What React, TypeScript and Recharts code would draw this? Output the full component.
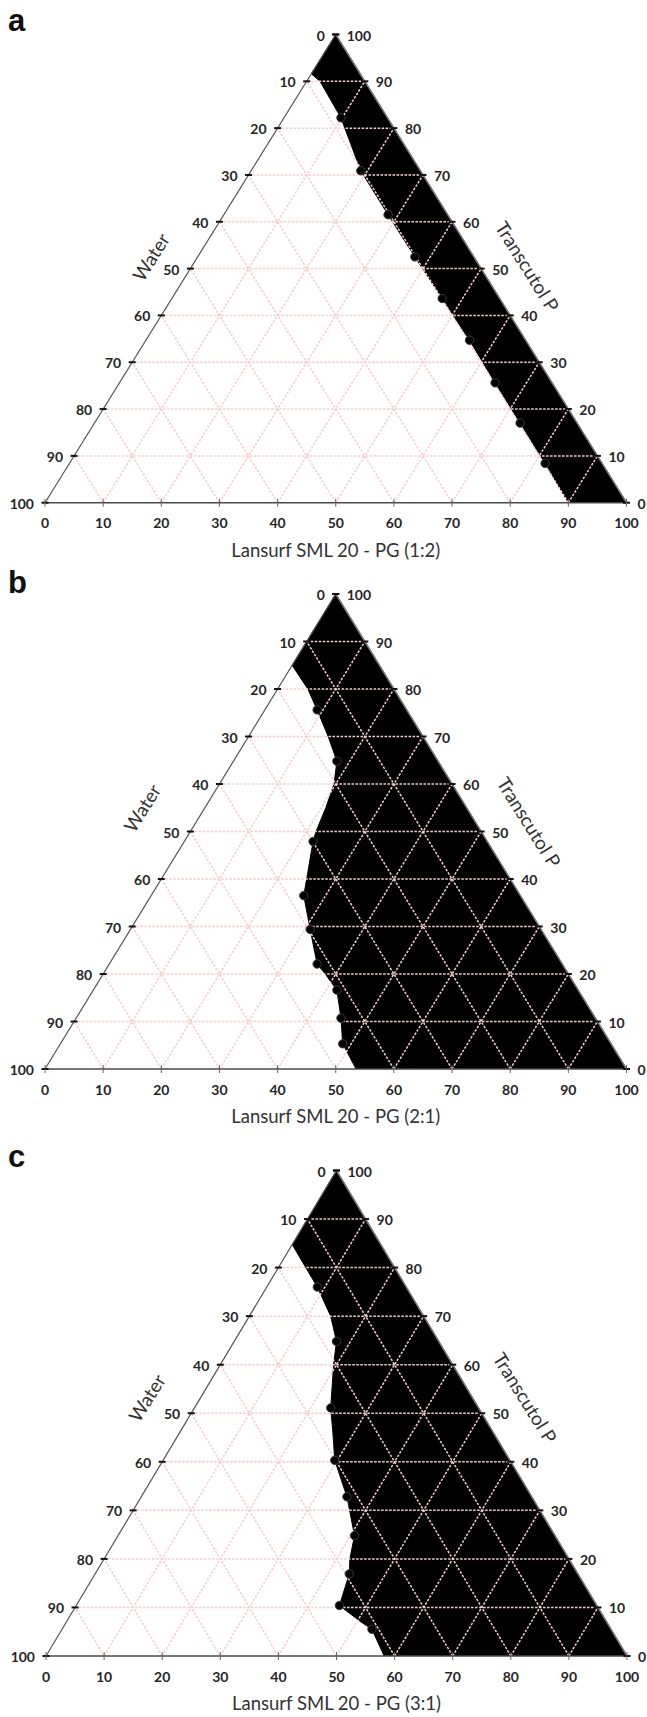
import React from 'react';
import { ComposedChart, XAxis, YAxis, Area, Line, ReferenceLine, ReferenceDot } from 'recharts';

type Pt = { t: number; x: number };

// t = Transcutol P (right scale), x = Lansurf SML 20 - PG (bottom scale)
const scaleTicks = [0, 10, 20, 30, 40, 50, 60, 70, 80, 90, 100];
const gridSteps = [10, 20, 30, 40, 50, 60, 70, 80, 90];

// edge of the black (microemulsion) region, from the base up to the left side
const aBoundary: Pt[] = [
  { t: 0, x: 90 }, { t: 8.4, x: 86.0 }, { t: 17.0, x: 81.7 }, { t: 25.6, x: 77.4 },
  { t: 34.7, x: 73.0 }, { t: 43.6, x: 68.3 }, { t: 52.5, x: 63.6 }, { t: 61.5, x: 59.0 },
  { t: 70.9, x: 54.3 }, { t: 82.2, x: 50.9 }, { t: 90.0, x: 47.3 }, { t: 91.6, x: 45.8 },
];
const aPoints: Pt[] = [
  { t: 8.4, x: 86.0 }, { t: 17.0, x: 81.7 }, { t: 25.6, x: 77.4 }, { t: 34.7, x: 73.0 },
  { t: 43.6, x: 68.3 }, { t: 52.5, x: 63.6 }, { t: 61.5, x: 59.0 }, { t: 70.9, x: 54.3 },
  { t: 82.2, x: 50.9 },
];

const bBoundary: Pt[] = [
  { t: 0, x: 53.5 }, { t: 5.3, x: 51.2 }, { t: 10.7, x: 50.9 }, { t: 16.6, x: 50.2 },
  { t: 20, x: 48.2 }, { t: 22.1, x: 46.8 }, { t: 29.4, x: 45.6 }, { t: 36.5, x: 44.5 },
  { t: 40, x: 45.0 }, { t: 47.9, x: 46.1 }, { t: 50, x: 46.6 }, { t: 55, x: 48.3 },
  { t: 60, x: 49.7 }, { t: 64.8, x: 50.2 }, { t: 70, x: 48.7 }, { t: 75.6, x: 46.8 },
  { t: 80, x: 45.2 }, { t: 85, x: 42.5 },
];
const bPoints: Pt[] = [
  { t: 5.3, x: 51.2 }, { t: 10.7, x: 50.9 }, { t: 16.6, x: 50.2 }, { t: 22.1, x: 46.8 },
  { t: 29.4, x: 45.6 }, { t: 36.5, x: 44.5 }, { t: 47.9, x: 46.1 }, { t: 64.8, x: 50.2 },
  { t: 75.6, x: 46.8 },
];

const cBoundary: Pt[] = [
  { t: 0, x: 58.2 }, { t: 5.5, x: 56.1 }, { t: 7.2, x: 54.0 }, { t: 10.4, x: 50.5 },
  { t: 16.9, x: 52.2 }, { t: 20, x: 52.3 }, { t: 24.8, x: 53.1 }, { t: 32.8, x: 51.8 },
  { t: 40.3, x: 49.7 }, { t: 45.7, x: 49.4 }, { t: 51.1, x: 49.0 }, { t: 60, x: 49.5 },
  { t: 64.8, x: 50.0 }, { t: 70, x: 49.0 }, { t: 76, x: 46.7 }, { t: 84.7, x: 42.4 },
];
const cPoints: Pt[] = [
  { t: 5.5, x: 56.1 }, { t: 10.4, x: 50.5 }, { t: 16.9, x: 52.2 }, { t: 24.8, x: 53.1 },
  { t: 32.8, x: 51.8 }, { t: 40.3, x: 49.7 }, { t: 51.1, x: 49.0 }, { t: 64.8, x: 50.0 },
  { t: 76.0, x: 46.7 },
];

const titles = ['Lansurf SML 20 - PG (1:2)', 'Lansurf SML 20 - PG (2:1)', 'Lansurf SML 20 - PG (3:1)'];
const letters = ['a', 'b', 'c'];

const SANS = 'Lato, "DejaVu Sans", sans-serif';
const GRID = '#f5cdcd';
const EDGE = '#555';

// black area spans from the boundary to the right side; above the boundary's end it fills to the apex
const fillRows = (boundary: Pt[]) => [
  ...boundary.map((p) => ({ t: p.t, band: [p.x, 100 - p.t / 2] })),
  { t: 100, band: [50, 50] },
];

const gridSegments = gridSteps.flatMap((v) => [
  [{ x: v / 2, y: v }, { x: 100 - v / 2, y: v }],
  [{ x: v, y: 0 }, { x: 50 + v / 2, y: 100 - v }],
  [{ x: v, y: 0 }, { x: v / 2, y: v }],
]);

const BottomTick = (props: any) => {
  const { x, y, payload } = props;
  return (
    <g>
      <line x1={x} x2={x} y1={y - 4} y2={y + 4} stroke="#666" strokeWidth={1} />
      <text x={x} y={y + 20} textAnchor="middle" dominantBaseline="central"
        fontFamily={SANS} fontWeight={700} fontSize={14} fill="#262626">{payload.value}</text>
    </g>
  );
};

const sideMark = (side: 'left' | 'right', text: string) => (props: any) => {
  const { cx, cy } = props;
  const left = side === 'left';
  return (
    <g>
      <line x1={cx - 3.5} x2={cx + 3.5} y1={cy} y2={cy} stroke="#111" strokeWidth={2} />
      <text x={left ? cx - 11 : cx + 11} y={cy + 0.5} textAnchor={left ? 'end' : 'start'}
        dominantBaseline="central" fontFamily={SANS} fontWeight={700} fontSize={14} fill="#262626">
        {text}
      </text>
    </g>
  );
};

const sideTitle = (text: string, dx: number, angle: number) => (props: any) => {
  const { cx, cy } = props;
  return (
    <text x={cx + dx} y={cy} textAnchor="middle" dominantBaseline="central"
      transform={`rotate(${angle} ${cx + dx} ${cy})`} fontFamily={SANS} fontSize={19} fill="#333">
      {text}
    </text>
  );
};

const bottomTitle = (text: string) => (props: any) => {
  const { cx, cy } = props;
  return (
    <text x={cx} y={cy + 47} textAnchor="middle" dominantBaseline="central"
      fontFamily={SANS} fontSize={18.5} fill="#333">{text}</text>
  );
};

type PanelCfg = {
  top: number;
  height: number;
  margin: { top: number; left: number; right: number; bottom: number };
  boundary: Pt[];
  points: Pt[];
  title: string;
  letter: string;
  letterTop: number;
  waterT: number;
  waterDx: number;
  transT: number;
  transDx: number;
};

const panels: PanelCfg[] = [
  { top: 0, height: 560, margin: { top: 34.5, left: 45, right: 20.5, bottom: 7.3 },
    boundary: aBoundary, points: aPoints, title: titles[0], letter: letters[0], letterTop: 4,
    waterT: 52.5, waterDx: -47, transT: 50.5, transDx: 48 },
  { top: 560, height: 580, margin: { top: 34, left: 45, right: 20.5, bottom: 21 },
    boundary: bBoundary, points: bPoints, title: titles[1], letter: letters[1], letterTop: 6,
    waterT: 55, waterDx: -63, transT: 52, transDx: 54 },
  { top: 1140, height: 577, margin: { top: 30.5, left: 46, right: 20, bottom: 11 },
    boundary: cBoundary, points: cPoints, title: titles[2], letter: letters[2], letterTop: 0,
    waterT: 53.2, waterDx: -54, transT: 53.2, transDx: 53 },
];

function Panel({ cfg }: { cfg: PanelCfg }) {
  return (
    <div style={{ position: 'absolute', left: 0, top: cfg.top, width: 647, height: cfg.height }}>
      <div style={{ position: 'absolute', left: 8, top: cfg.letterTop, fontFamily: '"Liberation Sans", Arial, sans-serif',
        fontWeight: 700, fontSize: 31, lineHeight: '34px', color: '#111' }}>{cfg.letter}</div>
      <ComposedChart width={647} height={cfg.height} layout="vertical" data={fillRows(cfg.boundary)} margin={cfg.margin}>
        <XAxis type="number" domain={[0, 100]} ticks={scaleTicks} interval={0} allowDataOverflow
          tickSize={0} tickMargin={0} tickLine={false} height={50}
          axisLine={{ stroke: '#4a4a4a', strokeWidth: 1.5 }} tick={<BottomTick />} />
        <YAxis type="number" dataKey="t" domain={[0, 100]} reversed hide allowDataOverflow />
        <Area dataKey="band" type="linear" fill="#000" fillOpacity={1} stroke="#000" strokeWidth={1}
          isAnimationActive={false} zIndex={100} />
        {gridSegments.map((seg, i) => (
          <ReferenceLine key={`g${i}`} segment={seg} stroke={GRID} strokeWidth={1.5}
            strokeDasharray="2.5 1.5" zIndex={400} />
        ))}
        <ReferenceLine segment={[{ x: 0, y: 0 }, { x: 50, y: 100 }]} stroke={EDGE} strokeWidth={1.2} zIndex={450} />
        <ReferenceLine segment={[{ x: 100, y: 0 }, { x: 50, y: 100 }]} stroke="#777" strokeWidth={1.5} zIndex={450} />
        <Line data={cfg.points} dataKey="x" stroke="none" isAnimationActive={false} zIndex={600}
          dot={{ r: 4.2, fill: '#000', stroke: '#3c3c3c', strokeWidth: 1 }} />
        {scaleTicks.map((v) => (
          <ReferenceDot key={`l${v}`} x={(100 - v) / 2} y={100 - v} r={0} zIndex={700}
            shape={sideMark('left', String(v))} />
        ))}
        {scaleTicks.map((v) => (
          <ReferenceDot key={`r${v}`} x={100 - v / 2} y={v} r={0} zIndex={700}
            shape={sideMark('right', String(v))} />
        ))}
        <ReferenceDot x={cfg.waterT / 2} y={cfg.waterT} r={0} zIndex={700}
          shape={sideTitle('Water', cfg.waterDx, -58)} />
        <ReferenceDot x={100 - cfg.transT / 2} y={cfg.transT} r={0} zIndex={700}
          shape={sideTitle('Transcutol P', cfg.transDx, 58)} />
        <ReferenceDot x={50} y={0} r={0} zIndex={700} shape={bottomTitle(cfg.title)} />
      </ComposedChart>
    </div>
  );
}

export default function App() {
  return (
    <div style={{ position: 'absolute', left: 0, top: 0, width: 647, height: 1717, background: '#fff' }}>
      {panels.map((p) => (
        <Panel key={p.letter} cfg={p} />
      ))}
    </div>
  );
}
